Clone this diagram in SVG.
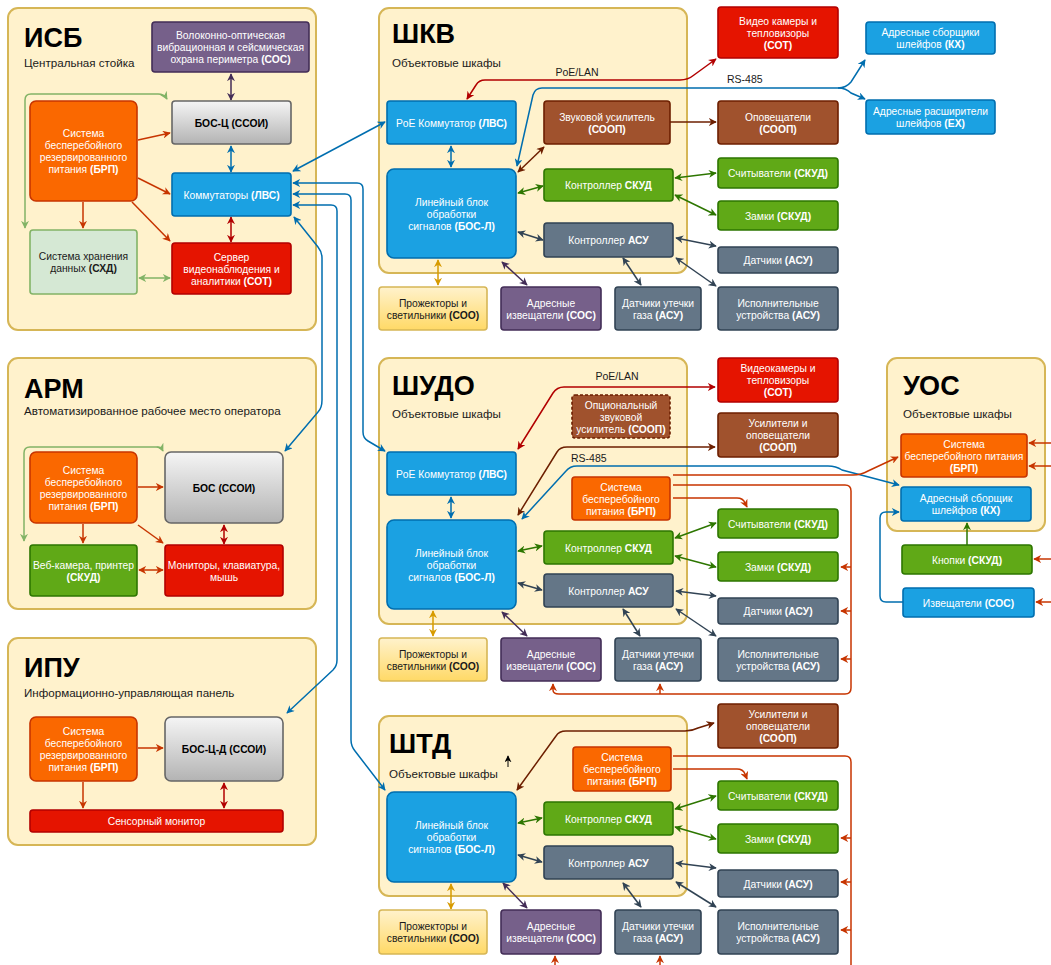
<svg xmlns="http://www.w3.org/2000/svg" width="1051" height="965" viewBox="0 0 1051 965">
<defs>
<linearGradient id="gGray" x1="0" y1="0" x2="0" y2="1"><stop offset="0" stop-color="#F5F5F5"/><stop offset="1" stop-color="#B3B3B3"/></linearGradient>
<linearGradient id="gYel" x1="0" y1="0" x2="0" y2="1"><stop offset="0" stop-color="#FFF2CC"/><stop offset="1" stop-color="#FFD966"/></linearGradient>
<marker id="mO" viewBox="0 0 10 10" refX="9" refY="5" markerWidth="8" markerHeight="8" markerUnits="userSpaceOnUse" orient="auto-start-reverse"><path d="M0,0 L10,5 L0,10 L3,5 z" fill="#C73500"/></marker>
<marker id="mB" viewBox="0 0 10 10" refX="9" refY="5" markerWidth="8" markerHeight="8" markerUnits="userSpaceOnUse" orient="auto-start-reverse"><path d="M0,0 L10,5 L0,10 L3,5 z" fill="#006EAF"/></marker>
<marker id="mP" viewBox="0 0 10 10" refX="9" refY="5" markerWidth="8" markerHeight="8" markerUnits="userSpaceOnUse" orient="auto-start-reverse"><path d="M0,0 L10,5 L0,10 L3,5 z" fill="#432D57"/></marker>
<marker id="mR" viewBox="0 0 10 10" refX="9" refY="5" markerWidth="8" markerHeight="8" markerUnits="userSpaceOnUse" orient="auto-start-reverse"><path d="M0,0 L10,5 L0,10 L3,5 z" fill="#B20000"/></marker>
<marker id="mBr" viewBox="0 0 10 10" refX="9" refY="5" markerWidth="8" markerHeight="8" markerUnits="userSpaceOnUse" orient="auto-start-reverse"><path d="M0,0 L10,5 L0,10 L3,5 z" fill="#6D1F00"/></marker>
<marker id="mG" viewBox="0 0 10 10" refX="9" refY="5" markerWidth="8" markerHeight="8" markerUnits="userSpaceOnUse" orient="auto-start-reverse"><path d="M0,0 L10,5 L0,10 L3,5 z" fill="#2D7600"/></marker>
<marker id="mS" viewBox="0 0 10 10" refX="9" refY="5" markerWidth="8" markerHeight="8" markerUnits="userSpaceOnUse" orient="auto-start-reverse"><path d="M0,0 L10,5 L0,10 L3,5 z" fill="#314354"/></marker>
<marker id="mY" viewBox="0 0 10 10" refX="9" refY="5" markerWidth="8" markerHeight="8" markerUnits="userSpaceOnUse" orient="auto-start-reverse"><path d="M0,0 L10,5 L0,10 L3,5 z" fill="#D79B00"/></marker>
<marker id="mL" viewBox="0 0 10 10" refX="9" refY="5" markerWidth="8" markerHeight="8" markerUnits="userSpaceOnUse" orient="auto-start-reverse"><path d="M0,0 L10,5 L0,10 L3,5 z" fill="#82B366"/></marker>
<marker id="mK" viewBox="0 0 10 10" refX="9" refY="5" markerWidth="7" markerHeight="7" markerUnits="userSpaceOnUse" orient="auto-start-reverse"><path d="M0,0 L10,5 L0,10 L3,5 z" fill="#000"/></marker>
</defs>
<style>
text{font-family:"Liberation Sans",Arial,Helvetica,sans-serif}
.panel{fill:#FFF2CC;stroke:#D6B656;stroke-width:2}
.title{font-size:27px;font-weight:bold;fill:#000}
.sub{font-size:11.6px;fill:#1a1a1a}
.lbl{font-size:10.5px;fill:#1a1a1a}
.t{font-size:10.3px;text-anchor:middle;fill:#fff}
.tk{font-size:10.3px;text-anchor:middle;fill:#1a1a1a}
.b{font-weight:bold}
.n rect{stroke-width:1.6}
.org{fill:#FA6800;stroke:#C73500}
.blu{fill:#1BA1E2;stroke:#006EAF}
.red{fill:#E51400;stroke:#B20000}
.pur{fill:#76608A;stroke:#432D57}
.grn{fill:#60A917;stroke:#2D7600}
.sla{fill:#647687;stroke:#314354}
.brn{fill:#A0522D;stroke:#6D1F00}
.lgr{fill:#D5E8D4;stroke:#82B366}
.gry{fill:url(#gGray);stroke:#666666}
.yel{fill:url(#gYel);stroke:#D6B656}
.dash{stroke-dasharray:3 2}
.c path{fill:none;stroke-width:1.5}
.cO{stroke:#C73500;marker-end:url(#mO)}.cO.d{marker-start:url(#mO)}
.cB{stroke:#006EAF;marker-end:url(#mB)}.cB.d{marker-start:url(#mB)}
.cP{stroke:#432D57;marker-end:url(#mP)}.cP.d{marker-start:url(#mP)}
.cR{stroke:#B20000;marker-end:url(#mR)}.cR.d{marker-start:url(#mR)}
.cBr{stroke:#6D1F00;marker-end:url(#mBr)}.cBr.d{marker-start:url(#mBr)}
.cG{stroke:#2D7600;marker-end:url(#mG)}.cG.d{marker-start:url(#mG)}
.cS{stroke:#314354;marker-end:url(#mS)}.cS.d{marker-start:url(#mS)}
.cY{stroke:#D79B00;marker-end:url(#mY)}.cY.d{marker-start:url(#mY)}
.cL{stroke:#82B366;marker-end:url(#mL)}.cL.d{marker-start:url(#mL)}
.cK{stroke:#000;marker-end:url(#mK)}
.c path.nm{marker-end:none}
</style>
<rect width="1051" height="965" fill="#fff"/>

<!-- Panels -->
<g id="panel-isb"><rect class="panel" x="8" y="8" width="308" height="322" rx="10"/><text class="title" x="24" y="47">ИСБ</text><text class="sub" x="24" y="67">Центральная стойка</text></g>
<g id="panel-shkv"><rect class="panel" x="379" y="8" width="308" height="265" rx="10"/><text class="title" x="392" y="43">ШКВ</text><text class="sub" x="392" y="67">Объектовые шкафы</text></g>
<g id="panel-arm"><rect class="panel" x="8" y="358" width="308" height="251" rx="10"/><text class="title" x="24" y="398">АРМ</text><text class="sub" x="24" y="415">Автоматизированное рабочее место оператора</text></g>
<g id="panel-shudo"><rect class="panel" x="379" y="358" width="308" height="266" rx="10"/><text class="title" x="392" y="395">ШУДО</text><text class="sub" x="392" y="418">Объектовые шкафы</text></g>
<g id="panel-uos"><rect class="panel" x="887" y="358" width="158" height="173" rx="10"/><text class="title" x="903" y="395">УОС</text><text class="sub" x="903" y="418">Объектовые шкафы</text></g>
<g id="panel-ipu"><rect class="panel" x="8" y="638" width="308" height="207" rx="10"/><text class="title" x="24" y="677">ИПУ</text><text class="sub" x="24" y="697">Информационно-управляющая панель</text></g>
<g id="panel-shtd"><rect class="panel" x="379" y="716" width="308" height="180" rx="10"/><text class="title" x="389" y="753">ШТД</text><text class="sub" x="389" y="778">Объектовые шкафы</text></g>

<!-- Connectors -->
<g id="connectors" class="c">
<!-- ИСБ -->
<path class="cP d" d="M231,74 V100"/>
<path class="cB d" d="M231,146 V172"/>
<path class="cR d" d="M231,217 V242"/>
<path class="cO" d="M138,140 L170,133"/>
<path class="cO" d="M138,178 L170,194"/>
<path class="cO" d="M132,202 L170,241"/>
<path class="cO" d="M83,202 V228"/>
<path class="cL d" d="M25,228 V100 Q25,94 31,94 H158 Q164,94 167,99"/>
<path class="cL d" d="M139,278 H170"/>
<path class="cB d" d="M293,171 L385,122"/>
<path class="cB d" d="M293,183 H357 Q363,183 363,189 V432 Q363,438 368,441 L385,451"/>
<path class="cB d" d="M293,194 H345 Q351,194 351,200 V740 Q351,746 355,751 L385,790"/>
<path class="cB d" d="M293,205 H331 Q337,205 337,211 V660 Q337,666 333,670 L287,713"/>
<path class="cB d" d="M294,217 L318,247 Q322,252 322,258 V400 Q322,408 318,412 L285,451"/>
<!-- ШКВ -->
<path class="cB d" d="M451,146 V167"/>
<path class="cY d" d="M438,260 V285"/>
<path class="cP d" d="M502,262 L527,285"/>
<path class="cBr d" d="M518,172 L544,147"/>
<path class="cG d" d="M518,193 L543,186"/>
<path class="cS d" d="M518,232 L543,240"/>
<path class="cS d" d="M623,258 L641,285"/>
<path class="cR d" d="M467,99 L476,85 Q479,80 485,80 H680 Q688,80 694,75 L716,59"/>
<path class="cB d" d="M517,166 L533,95 Q535,88 542,88 H838 Q846,88 851,82 L865,60"/>
<path class="cB" d="M838,88 Q846,88 851,93 L865,99"/>
<path class="cBr" d="M670,122 H716"/>
<path class="cG d" d="M675,178 L716,173"/>
<path class="cG d" d="M675,195 L716,215"/>
<path class="cS d" d="M676,238 L716,246"/>
<path class="cS d" d="M676,258 L716,286"/>
<!-- АРМ -->
<path class="cO" d="M138,487 H163"/>
<path class="cO" d="M83,524 V543"/>
<path class="cO" d="M138,525 L163,543"/>
<path class="cR d" d="M224,525 V544"/>
<path class="cO d" d="M139,570 H163"/>
<path class="cL d" d="M24,541 V453 Q24,447 30,447 H156 Q161,447 163,451"/>
<!-- ИПУ -->
<path class="cO" d="M138,748 H163"/>
<path class="cO" d="M83,782 V808"/>
<path class="cR d" d="M224,783 V808"/>
<!-- ШУДО -->
<path class="cB d" d="M451,497 V518"/>
<path class="cY d" d="M433,611 V636"/>
<path class="cP d" d="M502,612 L527,636"/>
<path class="cG d" d="M518,551 L542,546"/>
<path class="cS d" d="M518,583 L542,590"/>
<path class="cS d" d="M623,609 L640,636"/>
<path class="cR d" d="M518,449 L553,393 Q557,387 564,387 H715"/>
<path class="cBr d" d="M518,515 L557,452 Q560,447 567,447 H715"/>
<path class="cB d" d="M522,519 L566,471 Q570,466 577,466 H828 Q836,466 842,470 L899,485"/>
<path class="cO" d="M673,475 H853 Q861,475 868,471 L898,457"/>
<path class="cO" d="M673,485 H845 Q851,485 851,491 V688 Q851,694 845,694 H559 Q553,694 553,690 V684"/>
<path class="cO" d="M851,567 H841"/>
<path class="cO" d="M851,611 H841"/>
<path class="cO" d="M851,659 H841"/>
<path class="cO" d="M660,694 V684"/>
<path class="cO" d="M673,498 H737 Q743,498 745,503 L747,507"/>
<path class="cG d" d="M675,538 L716,523"/>
<path class="cG d" d="M675,556 L716,567"/>
<path class="cS d" d="M676,591 L716,596"/>
<path class="cS d" d="M676,609 L716,636"/>
<!-- УОС -->
<path class="cG" d="M967,545 V523"/>
<path class="cB" d="M903,602 H886 Q880,602 880,596 V518 Q880,512 886,512 H899"/>
<path class="cO" d="M1051,443 H1029"/>
<path class="cO" d="M1051,466 H1029"/>
<path class="cO" d="M1051,559 H1034"/>
<path class="cO" d="M1051,602 H1036"/>
<!-- ШТД -->
<path class="cY d" d="M451,884 V909"/>
<path class="cP d" d="M503,883 L527,908"/>
<path class="cG d" d="M518,823 L542,818"/>
<path class="cS d" d="M518,855 L542,862"/>
<path class="cS d" d="M623,883 L641,907"/>
<path class="cBr d" d="M517,790 L556,736 Q559,731 566,731 H685 Q692,731 698,728 L714,723"/>
<path class="cO nm" d="M673,756 H845 Q851,756 851,762 V965"/>
<path class="cO" d="M851,838 H841"/>
<path class="cO" d="M851,882 H841"/>
<path class="cO" d="M851,930 H841"/>
<path class="cO" d="M673,769 H737 Q743,769 745,774 L747,779"/>
<path class="cG d" d="M675,809 L716,796"/>
<path class="cG d" d="M675,827 L716,839"/>
<path class="cS d" d="M676,863 L716,868"/>
<path class="cS d" d="M676,882 L716,907"/>
<path class="cO" d="M555,965 V956"/>
<path class="cO" d="M660,965 V956"/>
<path class="cK" d="M508,767 V756" style="stroke-width:1"/>
</g>
<g id="edge-labels">
<text class="lbl" x="577" y="76" text-anchor="middle">PoE/LAN</text>
<text class="lbl" x="727" y="83">RS-485</text>
<text class="lbl" x="617" y="380" text-anchor="middle">PoE/LAN</text>
<text class="lbl" x="571" y="462">RS-485</text>
</g>

<!-- ИСБ nodes -->
<g id="isb-sos" class="n"><rect class="pur" x="152" y="22" width="157" height="50" rx="3"/><text class="t" x="230.5" y="39">Волоконно-оптическая</text><text class="t" x="230.5" y="51">вибрационная и сейсмическая</text><text class="t" x="230.5" y="63">охрана периметра <tspan class="b">(СОС)</tspan></text></g>
<g id="isb-bosc" class="n"><rect class="gry" x="172" y="101" width="119" height="43" rx="3"/><text class="tk b" x="231.5" y="126.5" style="fill:#000">БОС-Ц (ССОИ)</text></g>
<g id="isb-brp" class="n"><rect class="org" x="30" y="101" width="107" height="100" rx="6"/><text class="t" x="83.5" y="137">Система</text><text class="t" x="83.5" y="149">бесперебойного</text><text class="t" x="83.5" y="161">резервированного</text><text class="t" x="83.5" y="173">питания <tspan class="b">(БРП)</tspan></text></g>
<g id="isb-lvs" class="n"><rect class="blu" x="172" y="173" width="119" height="43" rx="3"/><text class="t" x="231.5" y="198.5">Коммутаторы <tspan class="b">(ЛВС)</tspan></text></g>
<g id="isb-shd" class="n"><rect class="lgr" x="30" y="230" width="107" height="64" rx="3"/><text class="tk" x="83.5" y="260">Система хранения</text><text class="tk" x="83.5" y="272">данных <tspan class="b">(СХД)</tspan></text></g>
<g id="isb-sot" class="n"><rect class="red" x="172" y="243" width="119" height="51" rx="3"/><text class="t" x="231.5" y="260.5">Сервер</text><text class="t" x="231.5" y="272.5">видеонаблюдения и</text><text class="t" x="231.5" y="284.5">аналитики <tspan class="b">(СОТ)</tspan></text></g>

<!-- ШКВ nodes -->
<g id="shkv-poe" class="n"><rect class="blu" x="387" y="101" width="129" height="43" rx="3"/><text class="t" x="451.5" y="126.5">PoE Коммутатор <tspan class="b">(ЛВС)</tspan></text></g>
<g id="shkv-bosl" class="n"><rect class="blu" x="387" y="169" width="129" height="89" rx="7"/><text class="t" x="451.5" y="205.5">Линейный блок</text><text class="t" x="451.5" y="217.5">обработки</text><text class="t" x="451.5" y="229.5">сигналов <tspan class="b">(БОС-Л)</tspan></text></g>
<g id="shkv-amp" class="n"><rect class="brn" x="544" y="101" width="126" height="43" rx="3"/><text class="t" x="607" y="120.5">Звуковой усилитель</text><text class="t b" x="607" y="132.5">(СООП)</text></g>
<g id="shkv-skud" class="n"><rect class="grn" x="544" y="169" width="129" height="32" rx="3"/><text class="t" x="608.5" y="189">Контроллер <tspan class="b">СКУД</tspan></text></g>
<g id="shkv-asu" class="n"><rect class="sla" x="544" y="223" width="129" height="34" rx="3"/><text class="t" x="608.5" y="244">Контроллер <tspan class="b">АСУ</tspan></text></g>
<g id="shkv-soo" class="n"><rect class="yel" x="379" y="287" width="108" height="43" rx="3"/><text class="tk" x="433" y="306.5">Прожекторы и</text><text class="tk" x="433" y="318.5">светильники <tspan class="b">(СОО)</tspan></text></g>
<g id="shkv-izv" class="n"><rect class="pur" x="501" y="287" width="100" height="43" rx="3"/><text class="t" x="551" y="306.5">Адресные</text><text class="t" x="551" y="318.5">извещатели <tspan class="b">(СОС)</tspan></text></g>
<g id="shkv-gas" class="n"><rect class="sla" x="615" y="287" width="86" height="43" rx="3"/><text class="t" x="658" y="306.5">Датчики утечки</text><text class="t" x="658" y="318.5">газа <tspan class="b">(АСУ)</tspan></text></g>
<g id="shkv-cam" class="n"><rect class="red" x="718" y="7" width="120" height="51" rx="3"/><text class="t" x="778" y="24.5">Видео камеры и</text><text class="t" x="778" y="36.5">тепловизоры</text><text class="t b" x="778" y="48.5">(СОТ)</text></g>
<g id="shkv-opov" class="n"><rect class="brn" x="718" y="101" width="120" height="43" rx="3"/><text class="t" x="778" y="120.5">Оповещатели</text><text class="t b" x="778" y="132.5">(СООП)</text></g>
<g id="shkv-read" class="n"><rect class="grn" x="718" y="158" width="120" height="30" rx="3"/><text class="t" x="778" y="177">Считыватели <tspan class="b">(СКУД)</tspan></text></g>
<g id="shkv-lock" class="n"><rect class="grn" x="718" y="201" width="120" height="29" rx="3"/><text class="t" x="778" y="219.5">Замки <tspan class="b">(СКУД)</tspan></text></g>
<g id="shkv-sens" class="n"><rect class="sla" x="718" y="247" width="120" height="26" rx="3"/><text class="t" x="778" y="264">Датчики <tspan class="b">(АСУ)</tspan></text></g>
<g id="shkv-act" class="n"><rect class="sla" x="718" y="287" width="120" height="43" rx="3"/><text class="t" x="778" y="306.5">Исполнительные</text><text class="t" x="778" y="318.5">устройства <tspan class="b">(АСУ)</tspan></text></g>
<g id="shkv-kx" class="n"><rect class="blu" x="866" y="22" width="129" height="32" rx="3"/><text class="t" x="930.5" y="36">Адресные сборщики</text><text class="t" x="930.5" y="48">шлейфов <tspan class="b">(КХ)</tspan></text></g>
<g id="shkv-ex" class="n"><rect class="blu" x="866" y="100" width="129" height="34" rx="3"/><text class="t" x="930.5" y="115">Адресные расширители</text><text class="t" x="930.5" y="127">шлейфов <tspan class="b">(EX)</tspan></text></g>

<!-- АРМ nodes -->
<g id="arm-brp" class="n"><rect class="org" x="30" y="452" width="107" height="71" rx="6"/><text class="t" x="83.5" y="473.5">Система</text><text class="t" x="83.5" y="485.5">бесперебойного</text><text class="t" x="83.5" y="497.5">резервированного</text><text class="t" x="83.5" y="509.5">питания <tspan class="b">(БРП)</tspan></text></g>
<g id="arm-bos" class="n"><rect class="gry" x="165" y="452" width="118" height="71" rx="6"/><text class="tk b" x="224" y="491.5" style="fill:#000">БОС (ССОИ)</text></g>
<g id="arm-web" class="n"><rect class="grn" x="30" y="545" width="107" height="51" rx="3"/><text class="t" x="83.5" y="568.5">Веб-камера, принтер</text><text class="t b" x="83.5" y="580.5">(СКУД)</text></g>
<g id="arm-mon" class="n"><rect class="red" x="165" y="545" width="118" height="51" rx="3"/><text class="t" x="224" y="568.5">Мониторы, клавиатура,</text><text class="t" x="224" y="580.5">мышь</text></g>

<!-- ИПУ nodes -->
<g id="ipu-brp" class="n"><rect class="org" x="30" y="717" width="107" height="64" rx="6"/><text class="t" x="83.5" y="735">Система</text><text class="t" x="83.5" y="747">бесперебойного</text><text class="t" x="83.5" y="759">резервированного</text><text class="t" x="83.5" y="771">питания <tspan class="b">(БРП)</tspan></text></g>
<g id="ipu-bos" class="n"><rect class="gry" x="165" y="717" width="118" height="64" rx="6"/><text class="tk b" x="224" y="753" style="fill:#000">БОС-Ц-Д (ССОИ)</text></g>
<g id="ipu-mon" class="n"><rect class="red" x="30" y="810" width="253" height="22" rx="3"/><text class="t" x="156.5" y="825">Сенсорный монитор</text></g>

<!-- ШУДО nodes -->
<g id="shudo-poe" class="n"><rect class="blu" x="387" y="452" width="129" height="43" rx="3"/><text class="t" x="451.5" y="477.5">PoE Коммутатор <tspan class="b">(ЛВС)</tspan></text></g>
<g id="shudo-bosl" class="n"><rect class="blu" x="387" y="520" width="129" height="89" rx="7"/><text class="t" x="451.5" y="556.5">Линейный блок</text><text class="t" x="451.5" y="568.5">обработки</text><text class="t" x="451.5" y="580.5">сигналов <tspan class="b">(БОС-Л)</tspan></text></g>
<g id="shudo-amp" class="n"><rect class="brn dash" x="572" y="395" width="98" height="43" rx="3"/><text class="t" x="621" y="408.5">Опциональный</text><text class="t" x="621" y="420.5">звуковой</text><text class="t" x="621" y="432.5">усилитель <tspan class="b">(СООП)</tspan></text></g>
<g id="shudo-brp" class="n"><rect class="org" x="572" y="477" width="98" height="43" rx="3"/><text class="t" x="621" y="490.5">Система</text><text class="t" x="621" y="502.5">бесперебойного</text><text class="t" x="621" y="514.5">питания <tspan class="b">(БРП)</tspan></text></g>
<g id="shudo-skud" class="n"><rect class="grn" x="544" y="531" width="129" height="33" rx="3"/><text class="t" x="608.5" y="551.5">Контроллер <tspan class="b">СКУД</tspan></text></g>
<g id="shudo-asu" class="n"><rect class="sla" x="544" y="574" width="129" height="33" rx="3"/><text class="t" x="608.5" y="594.5">Контроллер <tspan class="b">АСУ</tspan></text></g>
<g id="shudo-soo" class="n"><rect class="yel" x="379" y="638" width="108" height="43" rx="3"/><text class="tk" x="433" y="657.5">Прожекторы и</text><text class="tk" x="433" y="669.5">светильники <tspan class="b">(СОО)</tspan></text></g>
<g id="shudo-izv" class="n"><rect class="pur" x="501" y="638" width="100" height="43" rx="3"/><text class="t" x="551" y="657.5">Адресные</text><text class="t" x="551" y="669.5">извещатели <tspan class="b">(СОС)</tspan></text></g>
<g id="shudo-gas" class="n"><rect class="sla" x="615" y="638" width="86" height="43" rx="3"/><text class="t" x="658" y="657.5">Датчики утечки</text><text class="t" x="658" y="669.5">газа <tspan class="b">(АСУ)</tspan></text></g>
<g id="shudo-cam" class="n"><rect class="red" x="718" y="358" width="120" height="44" rx="3"/><text class="t" x="778" y="372">Видеокамеры и</text><text class="t" x="778" y="384">тепловизоры</text><text class="t b" x="778" y="396">(СОТ)</text></g>
<g id="shudo-opov" class="n"><rect class="brn" x="718" y="413" width="120" height="44" rx="3"/><text class="t" x="778" y="427">Усилители и</text><text class="t" x="778" y="439">оповещатели</text><text class="t b" x="778" y="451">(СООП)</text></g>
<g id="shudo-read" class="n"><rect class="grn" x="718" y="509" width="120" height="29" rx="3"/><text class="t" x="778" y="527.5">Считыватели <tspan class="b">(СКУД)</tspan></text></g>
<g id="shudo-lock" class="n"><rect class="grn" x="718" y="552" width="120" height="29" rx="3"/><text class="t" x="778" y="570.5">Замки <tspan class="b">(СКУД)</tspan></text></g>
<g id="shudo-sens" class="n"><rect class="sla" x="718" y="598" width="120" height="26" rx="3"/><text class="t" x="778" y="615">Датчики <tspan class="b">(АСУ)</tspan></text></g>
<g id="shudo-act" class="n"><rect class="sla" x="718" y="638" width="120" height="43" rx="3"/><text class="t" x="778" y="657.5">Исполнительные</text><text class="t" x="778" y="669.5">устройства <tspan class="b">(АСУ)</tspan></text></g>

<!-- УОС nodes -->
<g id="uos-brp" class="n"><rect class="org" x="901" y="434" width="126" height="43" rx="3"/><text class="t" x="964" y="447.5">Система</text><text class="t" x="964" y="459.5">бесперебойного питания</text><text class="t b" x="964" y="471.5">(БРП)</text></g>
<g id="uos-kx" class="n"><rect class="blu" x="901" y="487" width="130" height="34" rx="3"/><text class="t" x="966" y="502">Адресный сборщик</text><text class="t" x="966" y="514">шлейфов <tspan class="b">(КХ)</tspan></text></g>
<g id="uos-btn" class="n"><rect class="grn" x="902" y="545" width="130" height="29" rx="3"/><text class="t" x="967" y="563.5">Кнопки <tspan class="b">(СКУД)</tspan></text></g>
<g id="uos-izv" class="n"><rect class="blu" x="903" y="588" width="131" height="29" rx="3"/><text class="t" x="968.5" y="606.5">Извещатели <tspan class="b">(СОС)</tspan></text></g>

<!-- ШТД nodes -->
<g id="shtd-bosl" class="n"><rect class="blu" x="387" y="792" width="129" height="90" rx="7"/><text class="t" x="451.5" y="829">Линейный блок</text><text class="t" x="451.5" y="841">обработки</text><text class="t" x="451.5" y="853">сигналов <tspan class="b">(БОС-Л)</tspan></text></g>
<g id="shtd-brp" class="n"><rect class="org" x="573" y="747" width="98" height="44" rx="3"/><text class="t" x="622" y="761">Система</text><text class="t" x="622" y="773">бесперебойного</text><text class="t" x="622" y="785">питания <tspan class="b">(БРП)</tspan></text></g>
<g id="shtd-skud" class="n"><rect class="grn" x="544" y="802" width="129" height="33" rx="3"/><text class="t" x="608.5" y="822.5">Контроллер <tspan class="b">СКУД</tspan></text></g>
<g id="shtd-asu" class="n"><rect class="sla" x="544" y="846" width="129" height="33" rx="3"/><text class="t" x="608.5" y="866.5">Контроллер <tspan class="b">АСУ</tspan></text></g>
<g id="shtd-soo" class="n"><rect class="yel" x="379" y="910" width="108" height="44" rx="3"/><text class="tk" x="433" y="930">Прожекторы и</text><text class="tk" x="433" y="942">светильники <tspan class="b">(СОО)</tspan></text></g>
<g id="shtd-izv" class="n"><rect class="pur" x="501" y="910" width="100" height="44" rx="3"/><text class="t" x="551" y="930">Адресные</text><text class="t" x="551" y="942">извещатели <tspan class="b">(СОС)</tspan></text></g>
<g id="shtd-gas" class="n"><rect class="sla" x="615" y="910" width="86" height="44" rx="3"/><text class="t" x="658" y="930">Датчики утечки</text><text class="t" x="658" y="942">газа <tspan class="b">(АСУ)</tspan></text></g>
<g id="shtd-opov" class="n"><rect class="brn" x="718" y="704" width="120" height="44" rx="3"/><text class="t" x="778" y="718">Усилители и</text><text class="t" x="778" y="730">оповещатели</text><text class="t b" x="778" y="742">(СООП)</text></g>
<g id="shtd-read" class="n"><rect class="grn" x="718" y="781" width="120" height="29" rx="3"/><text class="t" x="778" y="799.5">Считыватели <tspan class="b">(СКУД)</tspan></text></g>
<g id="shtd-lock" class="n"><rect class="grn" x="718" y="824" width="120" height="29" rx="3"/><text class="t" x="778" y="842.5">Замки <tspan class="b">(СКУД)</tspan></text></g>
<g id="shtd-sens" class="n"><rect class="sla" x="718" y="870" width="120" height="27" rx="3"/><text class="t" x="778" y="887.5">Датчики <tspan class="b">(АСУ)</tspan></text></g>
<g id="shtd-act" class="n"><rect class="sla" x="718" y="910" width="120" height="44" rx="3"/><text class="t" x="778" y="930">Исполнительные</text><text class="t" x="778" y="942">устройства <tspan class="b">(АСУ)</tspan></text></g>
</svg>
